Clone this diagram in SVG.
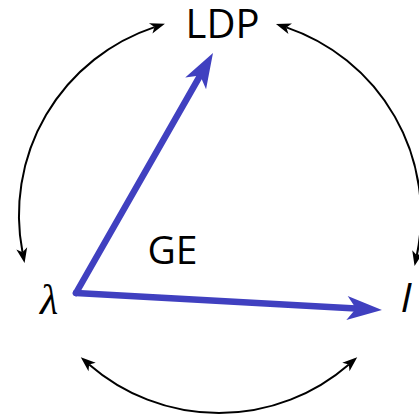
<svg xmlns="http://www.w3.org/2000/svg" width="419" height="416" viewBox="0 0 419 416">
<style>
.lbl{font-family:"Open Sans","DejaVu Sans",sans-serif;fill:#000}
.math{font-family:"Liberation Serif","DejaVu Serif",serif;font-style:italic;fill:#000}
.sit{font-family:"Open Sans","DejaVu Sans",sans-serif;font-style:italic;fill:#000}
.arc{fill:none;stroke:#000;stroke-width:2;marker-start:url(#blk);marker-end:url(#blk)}
.vec{fill:none;stroke:#4040c0;stroke-width:6.5;stroke-linecap:round;marker-end:url(#blu)}
</style>
<defs>
<marker id="blk" markerUnits="userSpaceOnUse" viewBox="-5 -7 18 14" refX="0" refY="0" markerWidth="18" markerHeight="14" orient="auto-start-reverse" overflow="visible">
<path d="M11,0 L-4,-5.5 L0,0 L-4,5.5 Z" fill="#000"/>
</marker>
<marker id="blu" markerUnits="userSpaceOnUse" viewBox="-10 -13 38 26" refX="0" refY="0" markerWidth="38" markerHeight="26" orient="auto" overflow="visible">
<path d="M26,0 L-9,-12 L0,0 L-9,12 Z" fill="#4040c0"/>
</marker>
</defs>
<g id="connectors">
<path class="arc" d="M154.5,27.1 A198,198 0 0 0 22.5,252.3"/>
<path class="arc" d="M286.4,27.4 A198,198 0 0 1 416.8,255.3"/>
<path class="arc" d="M89.1,364.4 A198,198 0 0 0 348.9,364.4"/>
<path class="vec" d="M76,293 L200.1,75.6"/>
<path class="vec" d="M76,293 L356,308.6"/>
</g>
<g id="node-LDP"><text class="lbl" x="222.5" y="38" font-size="40" text-anchor="middle">LDP</text></g>
<g id="node-GE"><text class="lbl" x="172.5" y="264" font-size="39" text-anchor="middle">GE</text></g>
<g id="node-lambda"><text class="math" x="49" y="314" font-size="42" text-anchor="middle">λ</text></g>
<g id="node-I"><text class="sit" x="406" y="312" font-size="41" text-anchor="middle">I</text></g>
</svg>
